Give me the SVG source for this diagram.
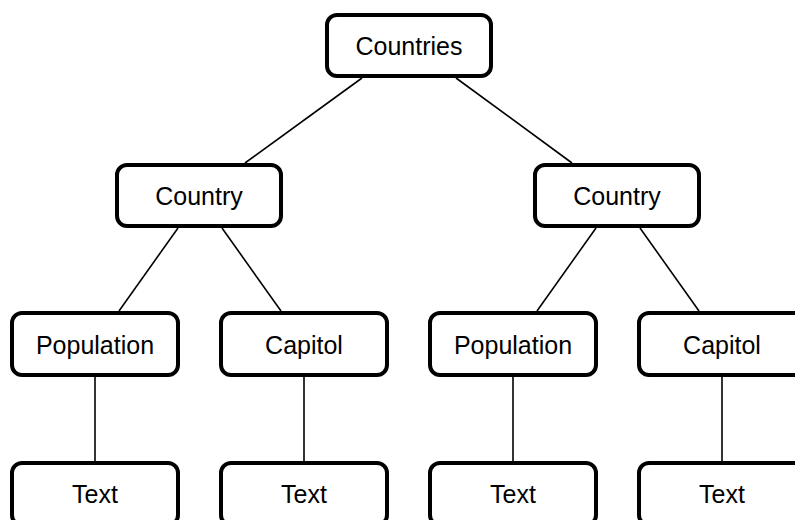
<svg xmlns="http://www.w3.org/2000/svg" width="795" height="520" viewBox="0 0 795 520">
  <style>
    .box { fill: #ffffff; stroke: #000000; stroke-width: 4; }
    .lbl { font-family: "Liberation Sans", Arial, sans-serif; font-size: 25px; fill: #000000; text-anchor: middle; }
    .edge { stroke: #000000; stroke-width: 1.6; fill: none; }
  </style>
  <rect width="795" height="520" fill="#ffffff"/>

  <!-- connectors -->
  <g id="connectors">
    <line class="edge" x1="362" y1="78" x2="245" y2="163"/>
    <line class="edge" x1="456" y1="78" x2="572" y2="163"/>
    <line class="edge" x1="178" y1="228" x2="119" y2="311"/>
    <line class="edge" x1="222" y1="228" x2="281" y2="311"/>
    <line class="edge" x1="596" y1="228" x2="537" y2="311"/>
    <line class="edge" x1="640" y1="228" x2="699" y2="311"/>
    <line class="edge" x1="95" y1="377" x2="95" y2="461"/>
    <line class="edge" x1="304" y1="377" x2="304" y2="461"/>
    <line class="edge" x1="513" y1="377" x2="513" y2="461"/>
    <line class="edge" x1="722" y1="377" x2="722" y2="461"/>
  </g>

  <!-- root -->
  <g id="countries">
    <rect class="box" x="327" y="15" width="164" height="61" rx="10"/>
    <text class="lbl" x="409" y="55">Countries</text>
  </g>

  <!-- second level -->
  <g id="country-left">
    <rect class="box" x="117" y="165" width="164" height="61" rx="10"/>
    <text class="lbl" x="199" y="205">Country</text>
  </g>
  <g id="country-right">
    <rect class="box" x="535" y="165" width="164" height="61" rx="10"/>
    <text class="lbl" x="617" y="205">Country</text>
  </g>

  <!-- third level -->
  <g id="population-left">
    <rect class="box" x="12" y="313" width="166" height="62" rx="10"/>
    <text class="lbl" x="95" y="354">Population</text>
  </g>
  <g id="capitol-left">
    <rect class="box" x="221" y="313" width="166" height="62" rx="10"/>
    <text class="lbl" x="304" y="354">Capitol</text>
  </g>
  <g id="population-right">
    <rect class="box" x="430" y="313" width="166" height="62" rx="10"/>
    <text class="lbl" x="513" y="354">Population</text>
  </g>
  <g id="capitol-right">
    <rect class="box" x="639" y="313" width="166" height="62" rx="10"/>
    <text class="lbl" x="722" y="354">Capitol</text>
  </g>

  <!-- leaves -->
  <g id="text-1">
    <rect class="box" x="12" y="463" width="166" height="62" rx="10"/>
    <text class="lbl" x="95" y="503">Text</text>
  </g>
  <g id="text-2">
    <rect class="box" x="221" y="463" width="166" height="62" rx="10"/>
    <text class="lbl" x="304" y="503">Text</text>
  </g>
  <g id="text-3">
    <rect class="box" x="430" y="463" width="166" height="62" rx="10"/>
    <text class="lbl" x="513" y="503">Text</text>
  </g>
  <g id="text-4">
    <rect class="box" x="639" y="463" width="166" height="62" rx="10"/>
    <text class="lbl" x="722" y="503">Text</text>
  </g>
</svg>
